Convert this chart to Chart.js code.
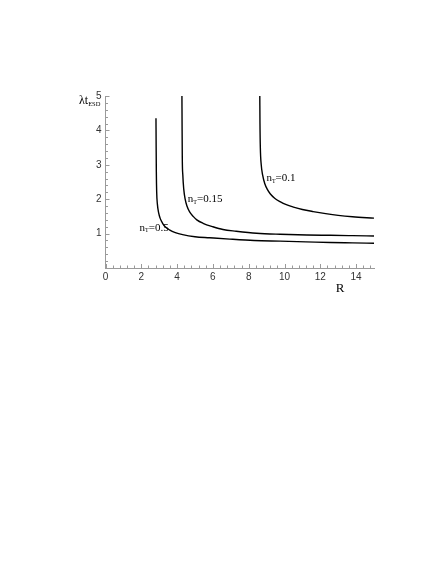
<!DOCTYPE html>
<html>
<head>
<meta charset="utf-8">
<script src="https://cdn.jsdelivr.net/npm/chart.js@4.4.0/dist/chart.umd.min.js"></script>
<style>
html,body{margin:0;padding:0;background:#fff;}
#wrap{position:relative;width:436px;height:564px;}
</style>
</head>
<body>
<div id="wrap"><canvas id="c" width="436" height="564"></canvas></div>
<script>
// Data
const seriesNames = ["n_T=0.5", "n_T=0.15", "n_T=0.1"];
const rN05 = [2.82,2.83,2.84,2.86,2.9,2.97,3.05,3.19,3.35,3.57,3.9,4.31,5.0,5.81,6.94,8.3,9.75,11.2,12.56,13.8,15];
const yN05 = [4.35,3.5,2.8,2.2,1.85,1.6,1.45,1.3,1.19,1.11,1.03,0.97,0.91,0.88,0.84,0.8,0.78,0.76,0.74,0.73,0.72];
const rN015 = [4.27,4.28,4.29,4.32,4.37,4.45,4.55,4.7,4.9,5.1,5.45,6.0,6.56,7.3,8.44,9.75,11.25,12.56,13.8,15];
const yN015 = [5.0,4.0,3.2,2.7,2.3,2.0,1.8,1.63,1.5,1.4,1.3,1.2,1.12,1.07,1.01,0.98,0.96,0.95,0.94,0.93];
const rN01 = [8.62,8.63,8.65,8.7,8.78,8.9,9.05,9.2,9.45,9.75,10.1,10.5,11.0,11.6,12.3,13.0,13.8,15];
const yN01 = [5.0,4.2,3.5,3.0,2.7,2.45,2.28,2.16,2.03,1.93,1.84,1.77,1.70,1.64,1.58,1.53,1.49,1.45];
const xTickLabels = [0,2,4,6,8,10,12,14];
const yTickLabels = [1,2,3,4,5];
const xMinorStep = 0.4, yMinorStep = 0.2;

function pts(xs, ys){ return xs.map((x,i)=>({x:x, y:ys[i]})); }
function range(a,b,s){ const o=[]; for(let k=0; a+k*s<=b+1e-9; k++) o.push(+(a+k*s).toFixed(4)); return o; }
const isMajor = (v, arr) => arr.some(t => Math.abs(t - v) < 1e-6);

const lineDs = (data) => ({data, showLine:true, borderColor:'#000', borderWidth:1.4, pointRadius:0, cubicInterpolationMode:'monotone', fill:false});

const axisColor = '#9a9a9a';

const decor = {
  id:'decor',
  afterDraw(chart){
    const ctx = chart.ctx, xs = chart.scales.x, ys = chart.scales.y;
    ctx.save();
    ctx.strokeStyle = axisColor; ctx.lineWidth = 1;
    const y0 = ys.getPixelForValue(0), x0 = xs.getPixelForValue(0);
    range(0, 15, xMinorStep).forEach(v=>{
      const px = Math.round(xs.getPixelForValue(v)) + 0.5;
      const L = isMajor(v, xTickLabels) ? 4 : 2.5;
      ctx.beginPath(); ctx.moveTo(px, y0); ctx.lineTo(px, y0 - L); ctx.stroke();
    });
    range(0, 5, yMinorStep).forEach(v=>{
      const py = Math.round(ys.getPixelForValue(v)) + 0.5;
      const L = isMajor(v, yTickLabels) ? 4 : 2.5;
      ctx.beginPath(); ctx.moveTo(x0, py); ctx.lineTo(x0 + L, py); ctx.stroke();
    });
    // curve labels
    ctx.fillStyle = '#000';
    ctx.textBaseline = 'middle';
    const lab = (rx, ry, val) => {
      let px = xs.getPixelForValue(rx), py = ys.getPixelForValue(ry);
      ctx.font = '11px "Liberation Serif", "Times New Roman", serif';
      ctx.textAlign = 'left';
      ctx.fillText('n', px, py);
      px += ctx.measureText('n').width;
      ctx.font = '6px "Liberation Serif", serif';
      ctx.fillText('T', px, py + 3);
      px += ctx.measureText('T').width;
      ctx.font = '11px "Liberation Serif", "Times New Roman", serif';
      ctx.fillText('=' + val, px, py);
    };
    lab(1.9, 1.17, '0.5');
    lab(4.6, 1.99, '0.15');
    lab(8.99, 2.6, '0.1');
    // axis titles
    ctx.font = '13px "Liberation Serif", serif';
    ctx.textAlign = 'center';
    ctx.fillText('R', 340, 289);
    ctx.textAlign = 'left';
    ctx.font = '12px "Liberation Serif", serif';
    ctx.fillText('λt', 79, 101);
    const w = ctx.measureText('λt').width;
    ctx.font = '6.5px "Liberation Serif", serif';
    ctx.fillText('ESD', 79 + w, 104.5);
    ctx.restore();
  }
};

new Chart(document.getElementById('c'), {
  type:'scatter',
  data:{ datasets:[ lineDs(pts(rN05,yN05)), lineDs(pts(rN015,yN015)), lineDs(pts(rN01,yN01)) ] },
  options:{
    responsive:false, animation:false,
    layout:{ padding:{ left:0, top:96, right:62, bottom:265 } },
    plugins:{ legend:{display:false}, tooltip:{enabled:false} },
    scales:{
      x:{ type:'linear', min:0, max:15,
        afterBuildTicks: s => { s.ticks = range(0, 15, xMinorStep).map(v=>({value:v})); },
        afterFit: s => { s.height = 31; },
        grid:{ display:false, drawTicks:false, tickLength:0 },
        border:{ display:true, color:axisColor, width:1 },
        ticks:{ autoSkip:false, maxRotation:0, padding:3, color:'#333',
          font:{ family:'"Liberation Sans", Arial, sans-serif', size:10 },
          callback: v => isMajor(v, xTickLabels) ? String(Math.round(v)) : '' }
      },
      y:{ type:'linear', min:0, max:5,
        afterBuildTicks: s => { s.ticks = range(0, 5, yMinorStep).map(v=>({value:v})); },
        afterFit: s => { s.width = 105.5; },
        grid:{ display:false, drawTicks:false, tickLength:0 },
        border:{ display:true, color:axisColor, width:1 },
        ticks:{ autoSkip:false, padding:4, color:'#333',
          font:{ family:'"Liberation Sans", Arial, sans-serif', size:10 },
          callback: v => isMajor(v, yTickLabels) ? String(Math.round(v)) : '' }
      }
    }
  },
  plugins:[decor]
});
</script>
</body>
</html>
